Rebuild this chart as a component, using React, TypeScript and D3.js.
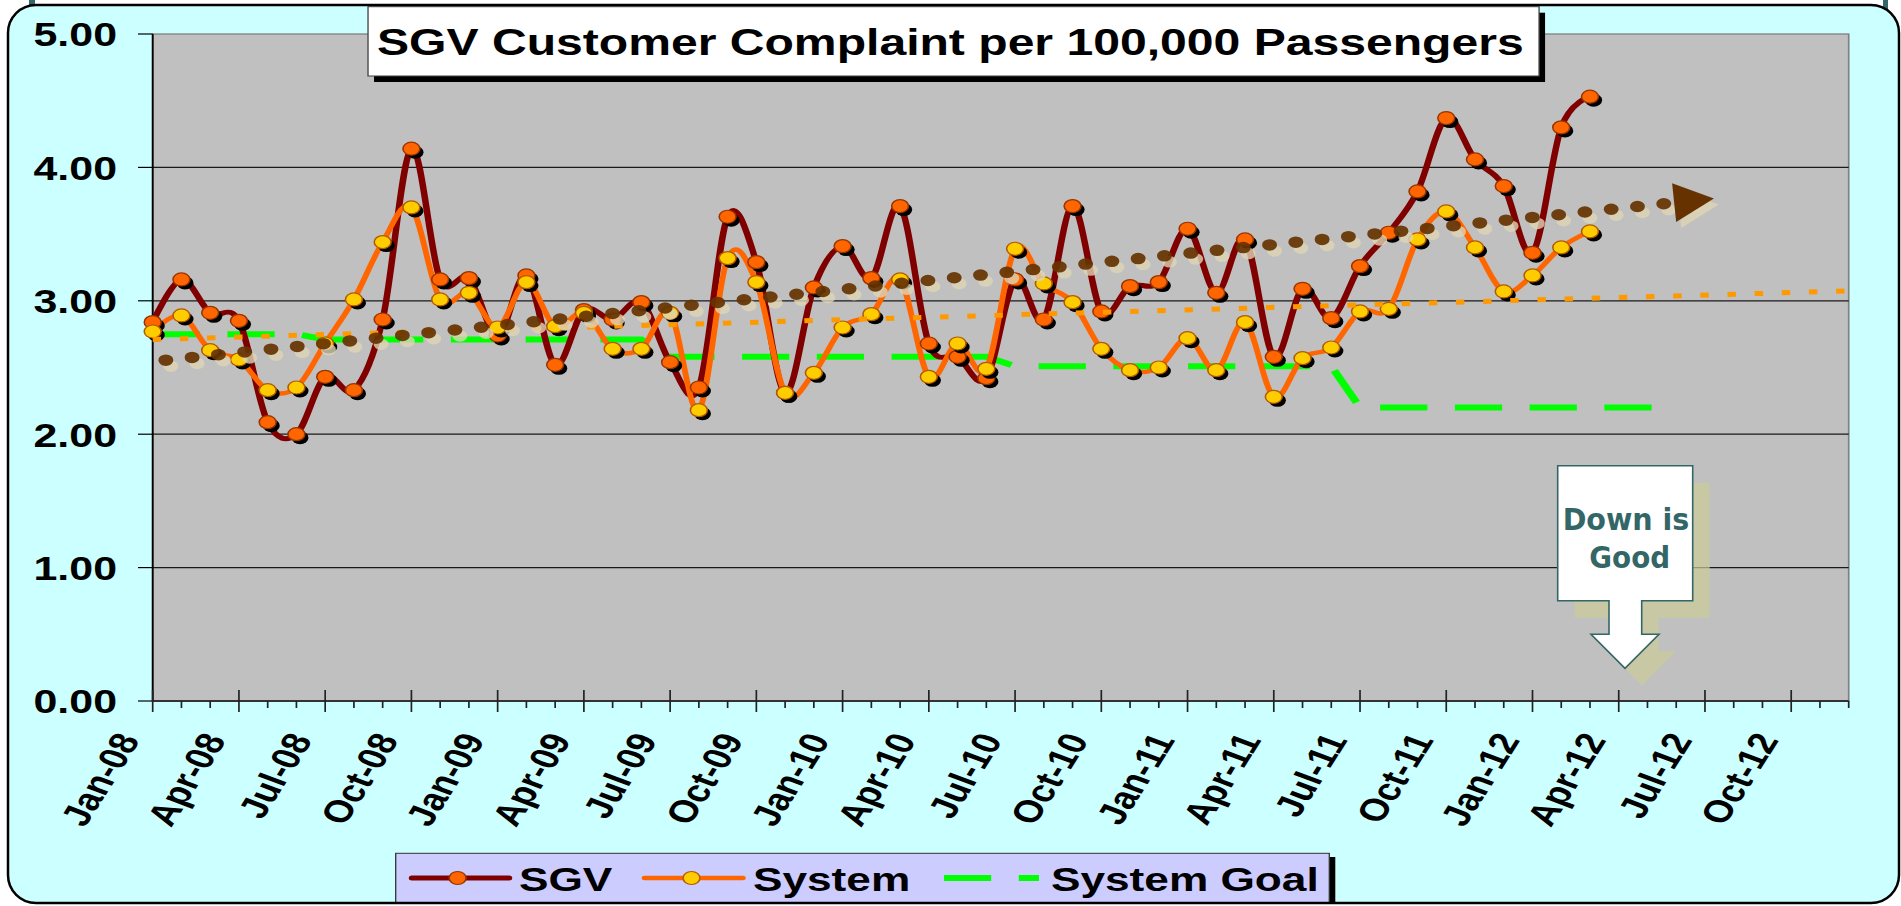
import React from "react";
import * as d3 from "d3";

// monthly values, index 0 = Jan-08
const sgv = [
  2.84, 3.16, 2.91, 2.85, 2.09, 2.0, 2.43, 2.33, 2.86, 4.14, 3.16, 3.17,
  2.74, 3.19, 2.52, 2.93, 2.86, 2.99, 2.54, 2.35, 3.63, 3.29, 2.31, 3.1,
  3.41, 3.17, 3.71, 2.68, 2.58, 2.42, 3.16, 2.86, 3.71, 2.92, 3.11, 3.14,
  3.54, 3.06, 3.46, 2.58, 3.09, 2.87, 3.26, 3.51, 3.82, 4.37, 4.06, 3.86,
  3.36, 4.3, 4.53,
];
const system = [
  2.77, 2.89, 2.63, 2.56, 2.33, 2.35, 2.68, 3.01, 3.44, 3.7, 3.01, 3.06,
  2.8, 3.14, 2.81, 2.91, 2.64, 2.64, 2.91, 2.18, 3.32, 3.14, 2.31, 2.46,
  2.8, 2.9, 3.16, 2.43, 2.68, 2.49, 3.39, 3.13, 2.99, 2.64, 2.48, 2.5,
  2.72, 2.48, 2.84, 2.28, 2.57, 2.65, 2.92, 2.94, 3.46, 3.67, 3.4, 3.07,
  3.19, 3.4, 3.52,
];
const goal = [
  2.75, 2.75, 2.75, 2.75, 2.75, 2.75,
  2.71, 2.71, 2.71, 2.71, 2.71, 2.71, 2.71, 2.71, 2.71, 2.71, 2.71, 2.71,
  2.58, 2.58, 2.58, 2.58, 2.58, 2.58, 2.58, 2.58, 2.58, 2.58, 2.58, 2.58,
  2.51, 2.51, 2.51, 2.51, 2.51, 2.51, 2.51, 2.51, 2.51, 2.51, 2.51, 2.51,
  2.2, 2.2, 2.2, 2.2, 2.2, 2.2, 2.2, 2.2, 2.2, 2.2, 2.2, 2.2,
];
// trend lines as drawn (month index, value)
const sgvTrendMonths = [0, 54];
const sgvTrendValues = [2.545, 3.76];
const systemTrendMonths = [0, 59];
const systemTrendValues = [2.71, 3.074];

const tickLabels = [
  "Jan-08", "Apr-08", "Jul-08", "Oct-08", "Jan-09", "Apr-09", "Jul-09", "Oct-09",
  "Jan-10", "Apr-10", "Jul-10", "Oct-10", "Jan-11", "Apr-11", "Jul-11", "Oct-11",
  "Jan-12", "Apr-12", "Jul-12", "Oct-12",
];
const yTicks = [0, 1, 2, 3, 4, 5];
const lastMonth = 59;

const W = 1901;
const H = 906;
const SX = 1.3; // the whole chart is stretched horizontally
const FONT = "'Liberation Sans', Arial, Helvetica, sans-serif";

export default function App() {
  const x = d3.scaleLinear().domain([0, lastMonth]).range([152.7 / SX, 1848.7 / SX]);
  const y = d3.scaleLinear().domain([0, 5]).range([701, 34]);

  const smooth = d3
    .line<number>()
    .x((_, i) => x(i))
    .y((d) => y(d))
    .curve(d3.curveCardinal.tension(0));
  const straight = d3
    .line<number>()
    .x((_, i) => x(i))
    .y((d) => y(d));
  const trend = (months: number[], values: number[]) =>
    d3
      .line<number>()
      .x((m) => x(m))
      .y((_, i) => y(values[i]))(months) || "";

  const months = d3.range(0, lastMonth + 1);
  const fmt = d3.format(".2f");

  // arrow head of the SGV trend, in true pixels
  const ex = x(sgvTrendMonths[1]) * SX;
  const ey = y(sgvTrendValues[1]);
  const sx0 = x(sgvTrendMonths[0]) * SX;
  const sy0 = y(sgvTrendValues[0]);
  const ang = Math.atan2(ey - sy0, ex - sx0);
  const ux = Math.cos(ang), uy = Math.sin(ang);
  const tipX = ex + 9 * ux, tipY = ey + 9 * uy;
  const bx = tipX - 40 * ux, by = tipY - 40 * uy;
  const arrow = [
    [tipX, tipY],
    [bx - 19.5 * uy, by + 19.5 * ux],
    [bx + 19.5 * uy, by - 19.5 * ux],
  ];
  const arrowPts = (dx: number, dy: number) => arrow.map((p) => `${p[0] + dx},${p[1] + dy}`).join(" ");

  const plotL = x(0), plotR = x(lastMonth);

  // legend geometry (local units)
  const legL = 395.7 / SX, legR = 1329.3 / SX, legT = 853.3, legY = 878;

  // callout ("Down is Good") in true pixels
  const callout = [
    [1557.7, 465.7], [1692.7, 465.7], [1692.7, 600.7], [1641.7, 600.7], [1641.7, 634.3],
    [1659, 634.3], [1625, 668.3], [1591, 634.3], [1609, 634.3], [1609, 600.7], [1557.7, 600.7],
  ];
  const calloutPts = (dx: number, dy: number) => callout.map((p) => `${p[0] + dx},${p[1] + dy}`).join(" ");

  return (
    <svg
      width={W}
      height={H}
      viewBox={`0 0 ${W} ${H}`}
      style={{ position: "absolute", left: 0, top: 0, background: "#fff" }}
    >
      <rect x={29} y={0} width={6} height={8} fill="#336666" />
      <rect x={1883} y={0} width={5} height={12} fill="#336666" />
      <rect x={8} y={5} width={1891} height={898} rx={28} fill="#ccffff" />

      <g transform={`scale(${SX},1)`}>
        {/* plot area */}
        <rect x={plotL} y={y(5)} width={plotR - plotL} height={y(0) - y(5)} fill="#c0c0c0" stroke="#808080" strokeWidth={1.3} />
        {yTicks.slice(1, 5).map((t) => (
          <line key={t} x1={plotL} x2={plotR} y1={y(t)} y2={y(t)} stroke="#1a1a1a" strokeWidth={1.2} />
        ))}
        <line x1={plotL} x2={plotL} y1={y(5)} y2={y(0)} stroke="#000" strokeWidth={1.4} />
        {yTicks.map((t) => (
          <g key={t}>
            <line x1={138 / SX} x2={plotL} y1={y(t)} y2={y(t)} stroke="#000" strokeWidth={1.2} />
            <text x={117 / SX} y={y(t) + 12.5} textAnchor="end" fontFamily={FONT} fontWeight="bold" fontSize={33} fill="#000">
              {fmt(t)}
            </text>
          </g>
        ))}

        {/* x axis */}
        <line x1={plotL} x2={plotR} y1={y(0)} y2={y(0)} stroke="#333" strokeWidth={2} />
        {months.map((m) =>
          m % 3 === 0 && m < lastMonth - 1 ? (
            <line key={m} x1={x(m)} x2={x(m)} y1={690} y2={712} stroke="#222" strokeWidth={1.3} />
          ) : (
            <line key={m} x1={x(m)} x2={x(m)} y1={701} y2={708} stroke="#222" strokeWidth={1.3} />
          )
        )}
        {tickLabels.map((lab, i) => (
          <text
            key={lab}
            transform={`translate(${x(i * 3) - 12 / SX},740) rotate(-64)`}
            textAnchor="end"
            fontFamily={FONT}
            fontWeight="bold"
            fontSize={31}
            fill="#000"
          >
            {lab}
          </text>
        ))}

        {/* goal */}
        <path d={straight(goal) || ""} fill="none" stroke="#00ff00" strokeWidth={6} strokeDasharray="36.3 21.2" />

        {/* series lines */}
        <path d={smooth(sgv) || ""} fill="none" stroke="#800000" strokeWidth={5} strokeLinejoin="round" />
        <path d={smooth(system) || ""} fill="none" stroke="#ff6600" strokeWidth={4.5} strokeLinejoin="round" />

        {/* markers */}
        {sgv.map((v, i) => (
          <g key={"s" + i}>
            <circle cx={x(i) + 2.8} cy={y(v) + 3.5} r={6.5} fill="#000" />
            <circle cx={x(i)} cy={y(v)} r={6.5} fill="#ff6600" stroke="#993300" strokeWidth={1.2} />
          </g>
        ))}
        {system.map((v, i) => (
          <g key={"y" + i}>
            <circle cx={x(i) + 2.8} cy={y(v) + 3.5} r={6.5} fill="#000" />
            <circle cx={x(i)} cy={y(v)} r={6.5} fill="#ffcc00" stroke="#b35900" strokeWidth={1.2} />
          </g>
        ))}

        {/* trend lines */}
        <path
          d={trend(systemTrendMonths, systemTrendValues)}
          fill="none"
          stroke="#ff9900"
          strokeWidth={5}
          strokeDasharray="6.5 14.4"
        />
        <path
          d={trend(sgvTrendMonths, sgvTrendValues)}
          transform={`translate(${5 / SX},6)`}
          fill="none"
          stroke="#ddd5b5"
          strokeOpacity={0.8}
          strokeWidth={11.5}
          strokeLinecap="round"
          strokeDasharray="0 20.4"
          strokeDashoffset={-10.2}
        />
        <path
          d={trend(sgvTrendMonths, sgvTrendValues)}
          fill="none"
          stroke="#663300"
          strokeOpacity={0.92}
          strokeWidth={11.5}
          strokeLinecap="round"
          strokeDasharray="0 20.4"
          strokeDashoffset={-10.2}
        />

        {/* title */}
        <rect x={283.1 + 6 / SX} y={12.7} width={900.8} height={69.3} fill="#000" />
        <rect x={283.1} y={6.7} width={900.8} height={69.3} fill="#fff" stroke="#404040" strokeWidth={1} />
        <text x={290} y={55} fontFamily={FONT} fontWeight="bold" fontSize={37} fill="#000">
          SGV Customer Complaint per 100,000 Passengers
        </text>

        {/* legend */}
        <rect x={legR} y={857} width={6 / SX} height={47} fill="#000" />
        <rect x={legL} y={legT} width={legR - legL} height={903 - legT} fill="#ccccff" stroke="#333" strokeWidth={1} />
        <line x1={412 / SX} x2={509 / SX} y1={legY} y2={legY} stroke="#800000" strokeWidth={5} strokeLinecap="round" />
        <circle cx={457.6 / SX} cy={legY} r={6.5} fill="#ff6600" stroke="#993300" strokeWidth={1.2} />
        <text x={519 / SX} y={890.7} fontFamily={FONT} fontWeight="bold" fontSize={34} fill="#000">SGV</text>
        <line x1={644.6 / SX} x2={742.8 / SX} y1={legY} y2={legY} stroke="#ff6600" strokeWidth={4.5} strokeLinecap="round" />
        <circle cx={691.5 / SX} cy={legY} r={6.5} fill="#ffcc00" stroke="#b35900" strokeWidth={1.2} />
        <text x={753 / SX} y={890.7} fontFamily={FONT} fontWeight="bold" fontSize={34} fill="#000">System</text>
        <line x1={944 / SX} x2={1039 / SX} y1={legY} y2={legY} stroke="#00ff00" strokeWidth={6} strokeDasharray="36.3 21.2" />
        <text x={1051 / SX} y={890.7} fontFamily={FONT} fontWeight="bold" fontSize={34} fill="#000">System Goal</text>
      </g>

      {/* trend arrow head */}
      <polygon points={arrowPts(5, 6)} fill="#ddd5b5" opacity={0.8} />
      <polygon points={arrowPts(0, 0)} fill="#663300" />

      {/* callout */}
      <polygon points={calloutPts(17, 17)} fill="#cccc99" opacity={0.7} />
      <polygon points={calloutPts(0, 0)} fill="#fff" stroke="#336666" strokeWidth={1.6} />
      <g fontFamily="'DejaVu Sans', Verdana, sans-serif" fontWeight="bold" fontSize={31} textAnchor="middle" fill="#336666">
        <text x={1626} y={530} textLength={126.7} lengthAdjust="spacingAndGlyphs">Down is</text>
        <text x={1629.7} y={568.3} textLength={80.7} lengthAdjust="spacingAndGlyphs">Good</text>
      </g>

      <rect x={8} y={5} width={1891} height={898} rx={28} fill="none" stroke="#000" strokeWidth={2.5} />
    </svg>
  );
}
